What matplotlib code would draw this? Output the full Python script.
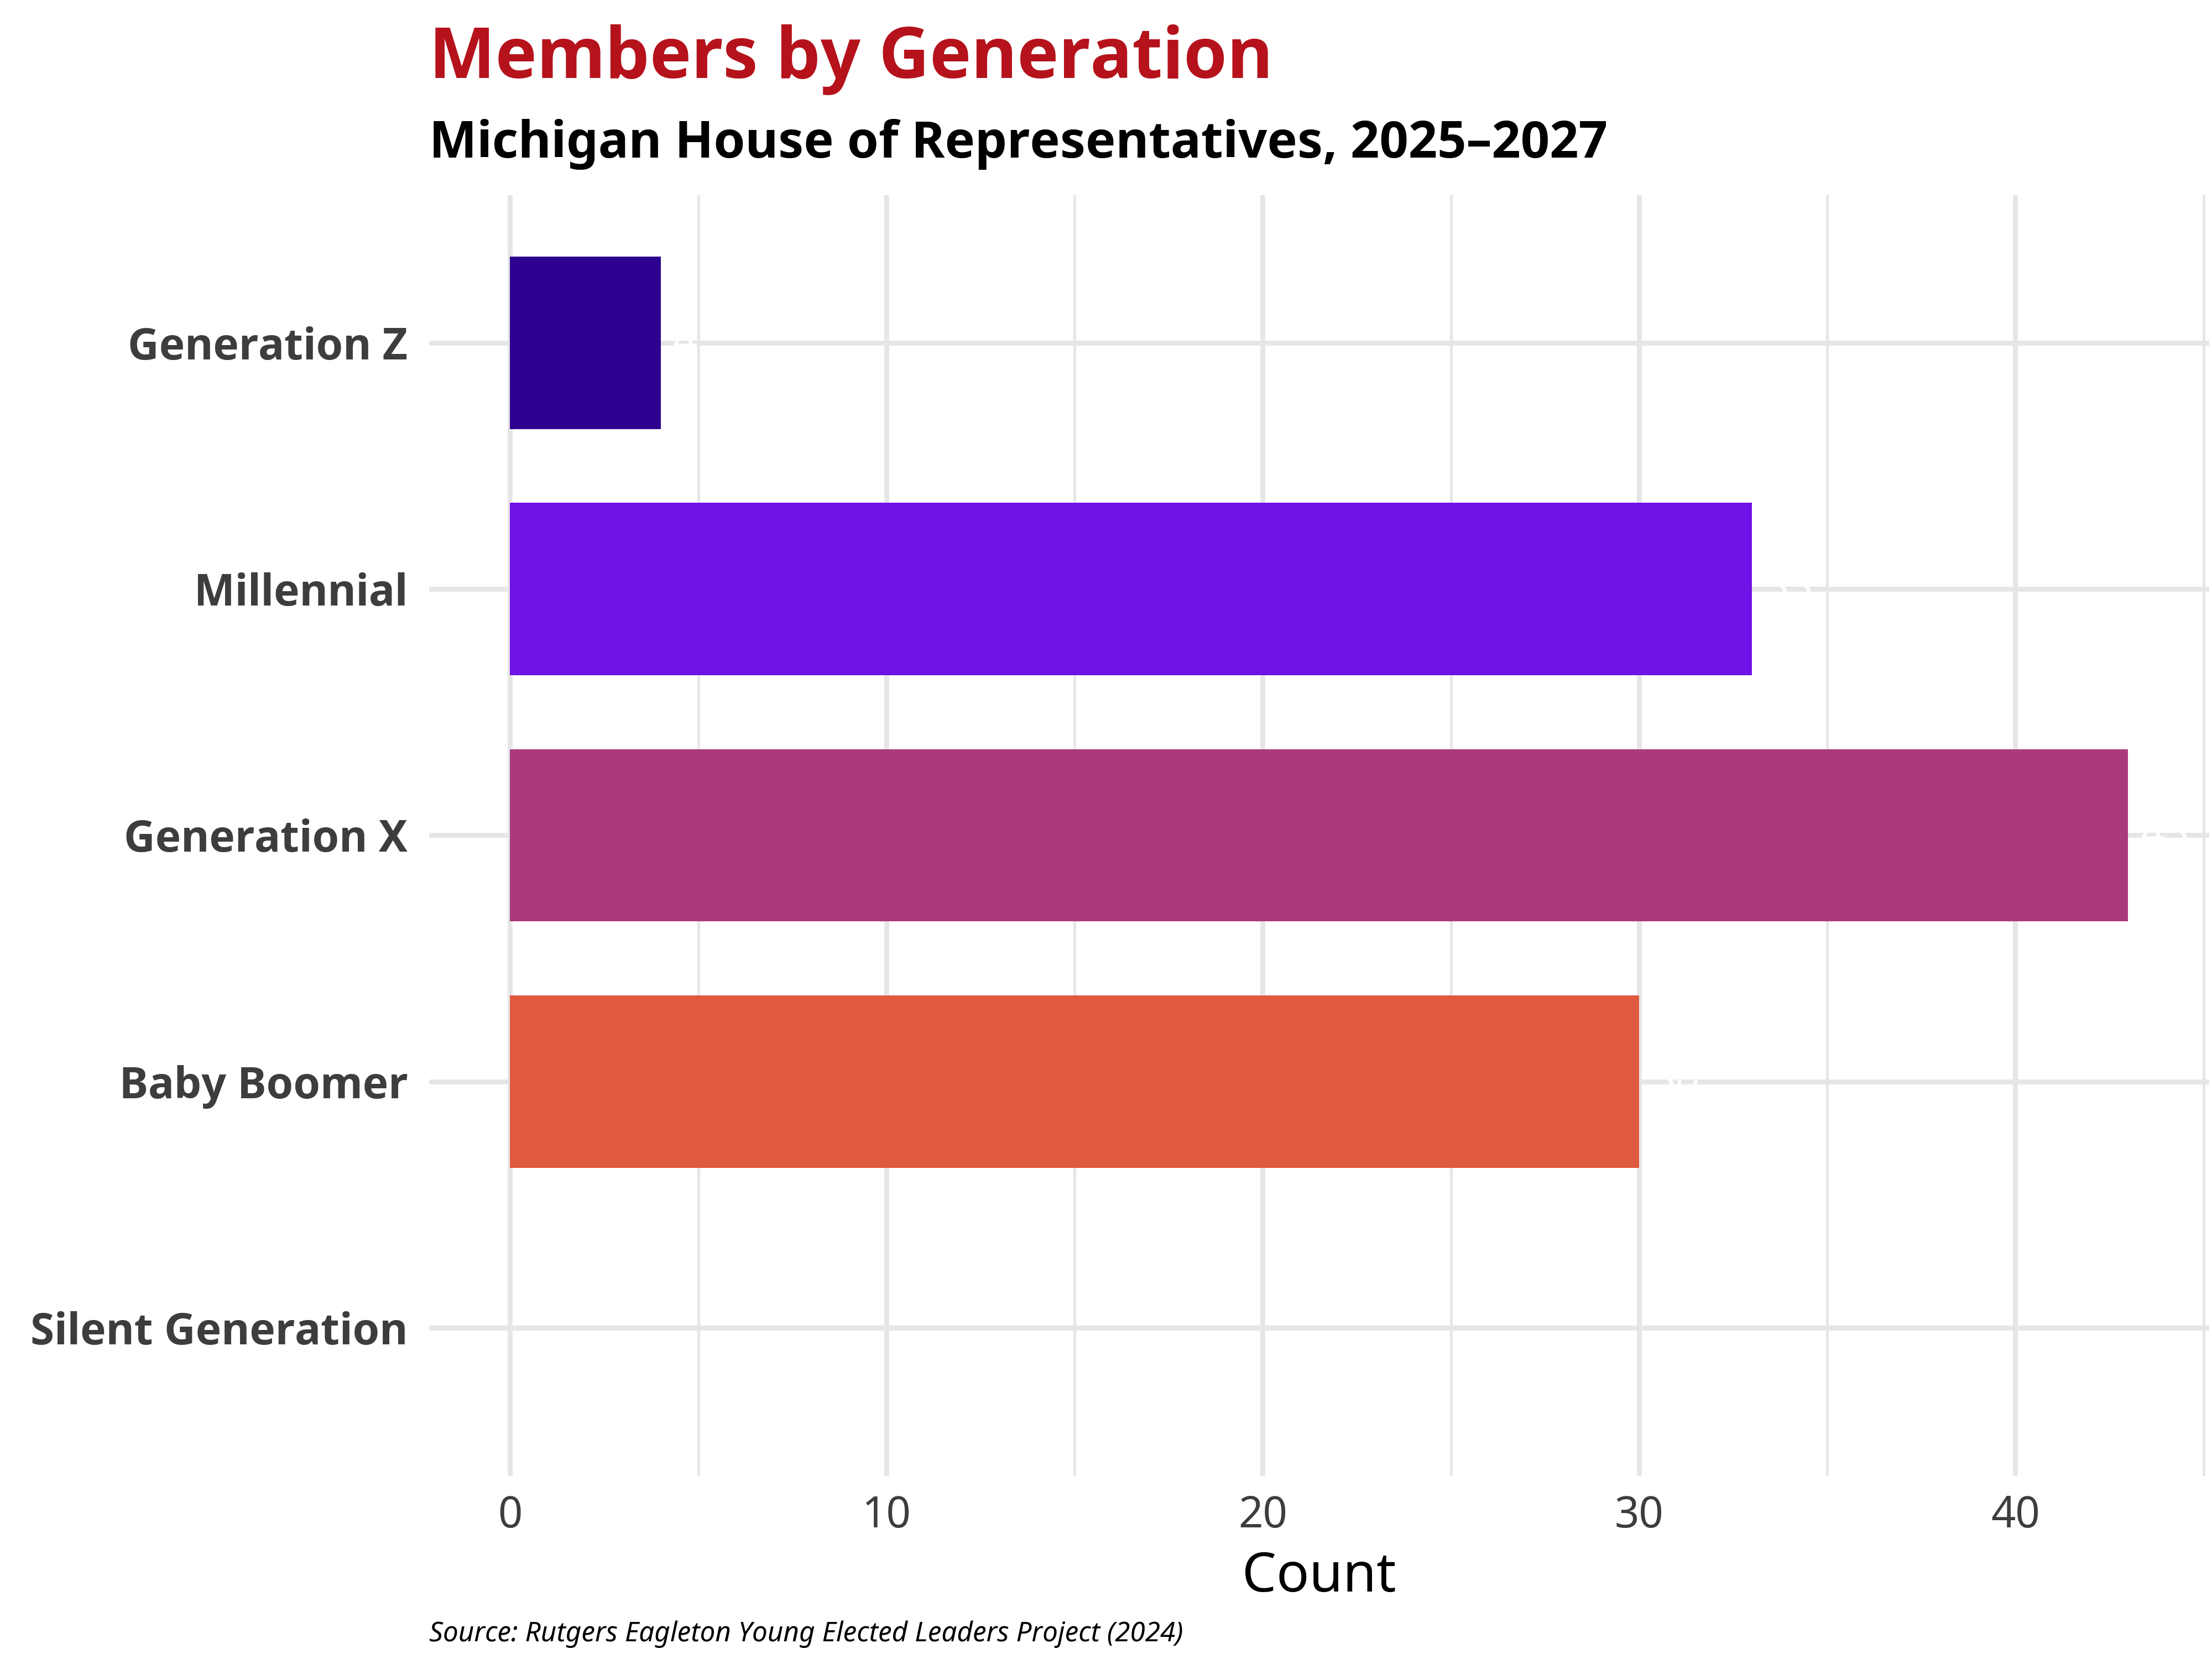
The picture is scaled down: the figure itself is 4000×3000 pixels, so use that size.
import matplotlib.pyplot as plt
from matplotlib import font_manager as fm
from matplotlib.font_manager import FontProperties
from matplotlib.ticker import MultipleLocator
import matplotlib.patheffects as pe

# Data
generations = ["Silent Generation", "Baby Boomer", "Generation X", "Millennial", "Generation Z"]
counts = [0, 30, 43, 33, 4]
bar_colors = ["#8a8a8a", "#e05a40", "#ab3a7b", "#6f12e5", "#2e008f"]

plt.rcParams['font.family'] = ['Noto Sans', 'DejaVu Sans']

# Noto Sans is only installed as a variable font, so make a static bold instance
bold_path = None
try:
    from fontTools.ttLib import TTFont
    from fontTools.varLib import instancer
    vf_path = fm.findfont(FontProperties(family='Noto Sans'))
    vf = TTFont(vf_path)
    axes = {a.axisTag for a in vf['fvar'].axes}
    limits = {"wght": 700}
    if "wdth" in axes:
        limits["wdth"] = 100
    inst = instancer.instantiateVariableFont(vf, limits)
    bold_path = "NotoSans-Bold-static.ttf"
    inst.save(bold_path)
    fm.fontManager.addfont(bold_path)
except Exception:
    bold_path = None


def bold(size):
    if bold_path:
        return FontProperties(fname=bold_path, size=size), []
    return (FontProperties(family='Noto Sans', size=size),
            [pe.withStroke(linewidth=size * 0.06, foreground='inherit')])


fig = plt.figure(figsize=(10, 7.5), dpi=400)
fig.patch.set_facecolor('white')
ax = fig.add_axes([0.194, 0.1105, 0.8047, 0.772])

ypos = list(range(len(generations)))
ax.barh(ypos, counts, height=0.7, color=bar_colors, zorder=2)

# white value labels (barely visible, they only cut the gridlines)
for y, v in zip(ypos, counts):
    if v > 0:
        ax.annotate(str(v), xy=(v, y), xytext=(4, 0), textcoords='offset points',
                    ha='left', va='center', color='white', fontsize=14, zorder=3)

ax.set_xlim(-2.15, 45.15)
ax.set_ylim(-0.6, len(generations) - 0.4)
ax.set_yticks(ypos)
ax.set_yticklabels(generations, color='#3d3d3d')
fp, eff = bold(14.1)
for lab in ax.get_yticklabels():
    lab.set_fontproperties(fp)
    if eff:
        lab.set_path_effects([pe.withStroke(linewidth=0.85, foreground='#3d3d3d')])
ax.xaxis.set_major_locator(MultipleLocator(10))
ax.xaxis.set_minor_locator(MultipleLocator(5))
ax.tick_params(axis='x', labelsize=14, labelcolor='#3d3d3d', length=0, pad=6, which='both')
ax.tick_params(axis='y', length=0, pad=7)

ax.grid(True, which='major', axis='both', color='#e6e6e6', linewidth=1.6, zorder=0)
ax.grid(True, which='minor', axis='x', color='#e6e6e6', linewidth=0.9, zorder=0)
ax.set_axisbelow(True)
for s in ax.spines.values():
    s.set_visible(False)

ax.set_xlabel("Count", fontsize=17.7, color='black', labelpad=4)

# Title, subtitle, caption aligned with the panel
fp, eff = bold(22.8)
t = fig.text(0.194, 0.953, "Members by Generation", fontproperties=fp,
             color='#b5121b', ha='left', va='baseline')
if eff:
    t.set_path_effects([pe.withStroke(linewidth=1.35, foreground='#b5121b')])
fp, eff = bold(16.5)
t = fig.text(0.194, 0.905, "Michigan House of Representatives, 2025\u20132027", fontproperties=fp,
             color='black', ha='left', va='baseline')
if eff:
    t.set_path_effects([pe.withStroke(linewidth=1.0, foreground='black')])
fig.text(0.194, 0.0105, "Source: Rutgers Eagleton Young Elected Leaders Project (2024)",
         fontsize=8.9, fontstyle='italic', color='black', ha='left', va='baseline')

fig.savefig("out.png", dpi=400, facecolor='white')
plt.close(fig)
